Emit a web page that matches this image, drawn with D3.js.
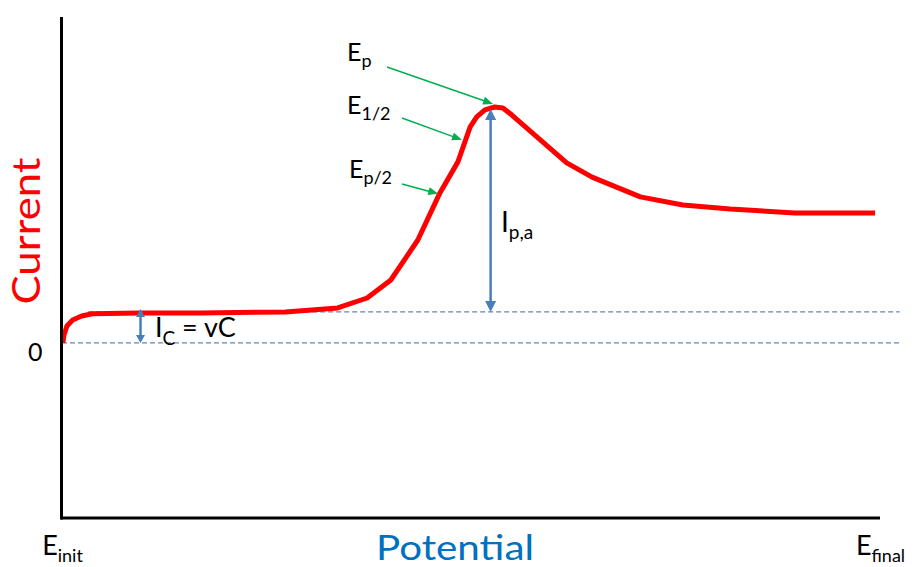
<!DOCTYPE html>
<html>
<head>
<meta charset="utf-8">
<script src="https://cdn.jsdelivr.net/npm/d3@7"></script>
<style>
  body { margin: 0; background: #fff; }
  svg { display: block; font-family: Lato, "Open Sans", sans-serif; }
</style>
</head>
<body>
<div class="chart"></div>
<script>
// voltammogram (potential in % of sweep, current in units of charging current)
var potential = [0.1, 0.25, 0.6, 1.3, 2.4, 3.7, 9.5, 16.9, 27.3, 33.7, 37.3, 40.2, 43.5, 46.2, 48.4,
  49.9, 50.7, 51.7, 52.9, 53.9, 55.0, 61.7, 64.8, 70.7, 75.9, 81.7, 89.6, 99.4];
var current = [0, 0.26, 0.55, 0.74, 0.87, 0.94, 0.97, 0.97, 1.0, 1.13, 1.45, 2.03, 3.32, 4.84, 5.84,
  6.97, 7.29, 7.52, 7.61, 7.58, 7.35, 5.81, 5.35, 4.71, 4.45, 4.32, 4.19, 4.19];

var chargingCurrent = 1;
var peakPotential = 52.4;
var peakCurrent = 7.61;
var icPotential = 9.6;

var baselineStart = [0, 3.2];
var baselineEnd = 102.4;

var tickPotentials = [0, 100];
var tickNames = ["init", "final"];
var currentTicks = [0];

var markerNames = ["p", "1/2", "p/2"];
var markerPotential = [52.7, 48.9, 46.0];
var markerCurrent = [7.71, 6.55, 4.81];

function init() {
  var w = 914;
  var h = 567;

  var xScale = d3.scaleLinear().domain([0, 100]).range([62, 880]);
  var yScale = d3.scaleLinear().domain([-5.645, 10.48]).range([518, 18]);

  var svg = d3.select(".chart")
    .append("svg")
    .attr("width", w)
    .attr("height", h);

  var blue = "#4a7ebb";
  var green = "#00b050";

  function arrow(x1, y1, x2, y2, color, width, headLen, headW, both) {
    var dx = x2 - x1, dy = y2 - y1;
    var len = Math.sqrt(dx * dx + dy * dy);
    var ux = dx / len, uy = dy / len;
    var sx = both ? x1 + ux * headLen * 0.8 : x1;
    var sy = both ? y1 + uy * headLen * 0.8 : y1;
    svg.append("line")
      .attr("x1", sx).attr("y1", sy)
      .attr("x2", x2 - ux * headLen * 0.8).attr("y2", y2 - uy * headLen * 0.8)
      .attr("stroke", color)
      .attr("stroke-width", width);
    function head(tx, ty, vx, vy) {
      var bx = tx - vx * headLen, by = ty - vy * headLen;
      var px = -vy * headW / 2, py = vx * headW / 2;
      svg.append("path")
        .attr("d", "M" + tx + "," + ty + "L" + (bx + px) + "," + (by + py) + "L" + (bx - px) + "," + (by - py) + "Z")
        .attr("fill", color);
    }
    head(x2, y2, ux, uy);
    if (both) head(x1, y1, -ux, -uy);
  }

  function subLabel(x, y, main, sub, size, subSize, subDy, anchor, color) {
    var t = svg.append("text")
      .attr("x", x)
      .attr("y", y)
      .attr("font-size", size)
      .attr("text-anchor", anchor || "start")
      .attr("fill", color || "#000");
    t.append("tspan").text(main);
    t.append("tspan").attr("font-size", subSize).attr("dy", subDy).text(sub);
    return t;
  }

  // dashed reference lines: zero current and charging current
  svg.append("line")
    .attr("x1", xScale(baselineStart[0])).attr("x2", xScale(baselineEnd))
    .attr("y1", yScale(0)).attr("y2", yScale(0))
    .attr("stroke", "#5b87c0").attr("stroke-width", 1.2)
    .attr("stroke-dasharray", "5,3");
  svg.append("line")
    .attr("x1", xScale(baselineStart[1])).attr("x2", xScale(baselineEnd))
    .attr("y1", yScale(chargingCurrent)).attr("y2", yScale(chargingCurrent))
    .attr("stroke", "#5b87c0").attr("stroke-width", 1.2)
    .attr("stroke-dasharray", "5,3");

  // the voltammogram
  var line = d3.line()
    .x(function(d) { return xScale(d[0]); })
    .y(function(d) { return yScale(d[1]); });

  svg.append("path")
    .datum(potential.map(function(p, i) { return [p, current[i]]; }))
    .attr("d", line)
    .attr("fill", "none")
    .attr("stroke", "#ff0000")
    .attr("stroke-width", 5)
    .attr("stroke-linejoin", "round");

  // axes
  var xAxis = d3.axisBottom(xScale)
    .tickValues(tickPotentials)
    .tickSize(0)
    .tickFormat("");
  var gx = svg.append("g")
    .attr("transform", "translate(0," + yScale.range()[0] + ")")
    .call(xAxis);
  gx.select(".domain").attr("stroke", "#000").attr("stroke-width", 3)
    .attr("d", "M" + (xScale.range()[0] - 1.5) + ",0H" + xScale.range()[1]);
  gx.selectAll(".tick text").each(function(d, i) {
    var t = d3.select(this)
      .attr("y", 37)
      .attr("dy", 0)
      .attr("font-size", 27)
      .attr("font-family", "Lato, 'Open Sans', sans-serif")
      .attr("fill", "#000");
    t.append("tspan").text("E");
    t.append("tspan").attr("font-size", 18).attr("dy", 7).text(tickNames[i]);
  });

  var yAxis = d3.axisLeft(yScale)
    .tickValues(currentTicks)
    .tickSize(0)
    .tickPadding(19);
  var gy = svg.append("g")
    .attr("transform", "translate(" + (xScale.range()[0] - 0.5) + ",0)")
    .call(yAxis);
  gy.select(".domain").attr("stroke", "#000").attr("stroke-width", 3)
    .attr("d", "M0," + (yScale.range()[1] - 1) + "V" + (yScale.range()[0] + 1.5));
  gy.selectAll(".tick text")
    .attr("font-size", 25)
    .attr("font-family", "Lato, 'Open Sans', sans-serif")
    .attr("fill", "#000")
    .attr("dy", "0.7em");

  // axis titles
  svg.append("text")
    .attr("x", 455)
    .attr("y", 560)
    .attr("text-anchor", "middle")
    .attr("font-size", 34)
    .attr("fill", "#0070c0")
    .attr("textLength", 158)
    .attr("lengthAdjust", "spacingAndGlyphs")
    .text("Potential");

  svg.append("text")
    .attr("transform", "translate(40,231) rotate(-90)")
    .attr("text-anchor", "middle")
    .attr("font-size", 39)
    .attr("fill", "#ff0000")
    .attr("textLength", 147)
    .attr("lengthAdjust", "spacingAndGlyphs")
    .text("Current");

  // peak current arrow
  arrow(xScale(peakPotential), yScale(peakCurrent) + 2, xScale(peakPotential), yScale(chargingCurrent),
    blue, 2.5, 11, 11, true);
  subLabel(501, 232, "I", "p,a", 28, 19, 7);

  // charging current arrow
  arrow(xScale(icPotential), yScale(chargingCurrent) - 3, xScale(icPotential), yScale(0),
    blue, 2.5, 8, 9, true);
  subLabel(155, 337, "I", "C", 27, 19, 8);
  svg.append("text")
    .attr("x", 182)
    .attr("y", 337)
    .attr("font-size", 27)
    .text("= vC");

  // E markers
  var labelPos = [[347, 61], [347, 114], [349, 178]];
  var tailPos = [[387, 67], [402, 118], [402, 184]];
  markerNames.forEach(function(name, i) {
    subLabel(labelPos[i][0], labelPos[i][1], "E", name, 25, 18, 6);
    arrow(tailPos[i][0], tailPos[i][1], xScale(markerPotential[i]), yScale(markerCurrent[i]),
      green, 1.5, 10, 8, false);
  });
}

window.onload = init;
</script>
</body>
</html>
